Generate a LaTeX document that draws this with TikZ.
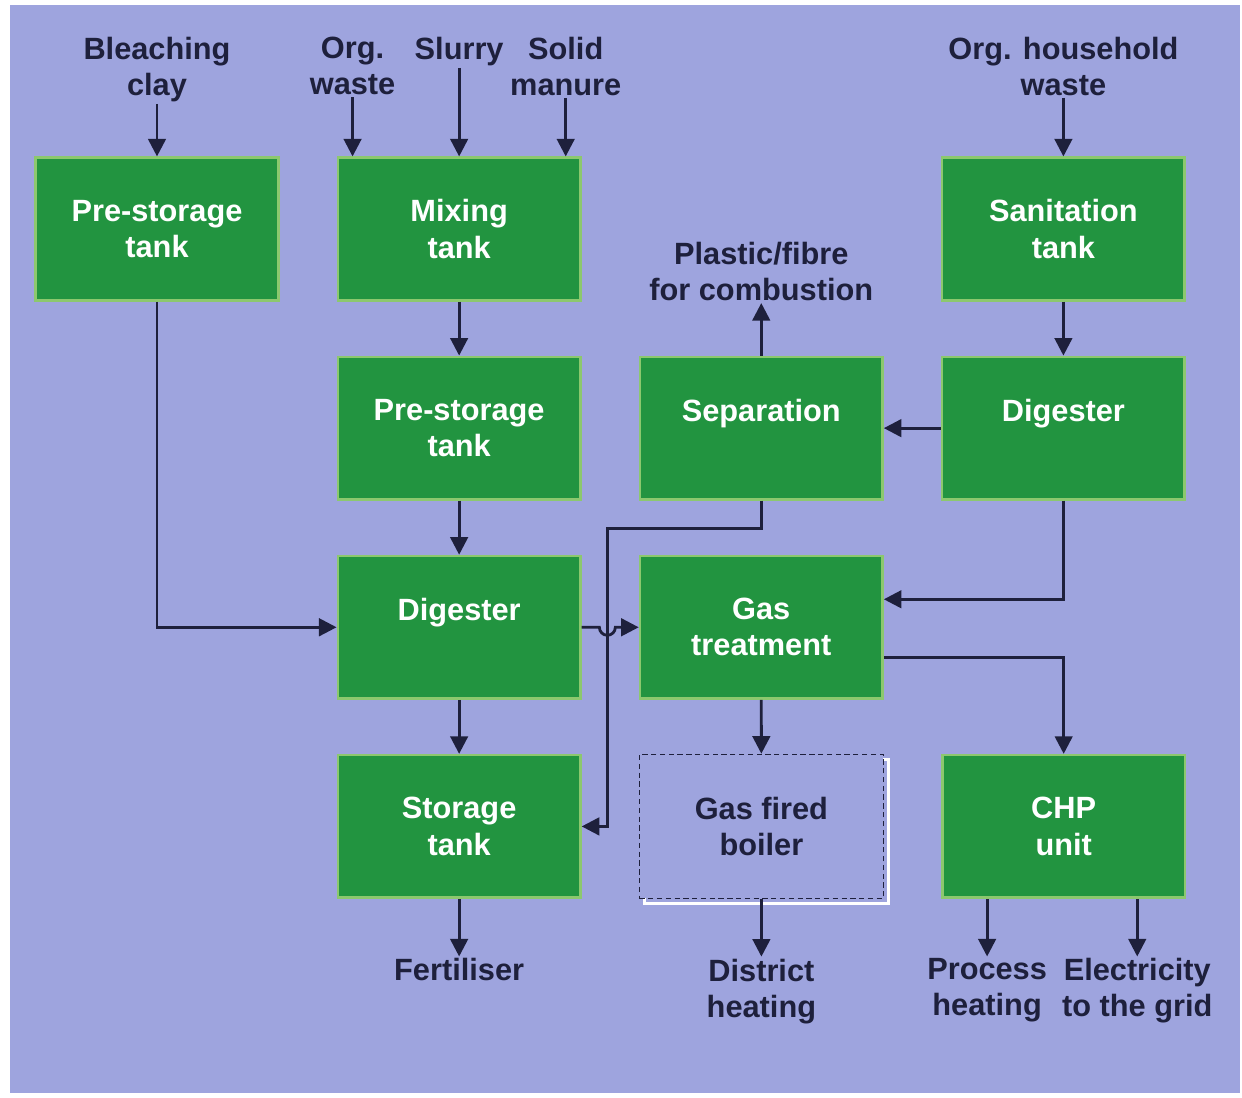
\documentclass[tikz,border=0pt]{standalone}
\usepackage{fontspec}
\setmainfont{Liberation Sans}
\usepackage{tikz}
\usetikzlibrary{positioning}
\usetikzlibrary{arrows.meta,calc,shadows}
\definecolor{bgblue}{RGB}{158,164,222}
\definecolor{boxgreen}{RGB}{34,148,64}
\definecolor{edgegreen}{RGB}{140,200,110}
\definecolor{ink}{RGB}{30,32,60}
\newcommand{\blankline}{\\\mbox{}}

\begin{document}
\begin{tikzpicture}[font=\bfseries\fontsize{17.5}{20.5}\selectfont,
            box/.style = {draw=edgegreen, line width=1.5pt, fill=boxgreen, text=white, align=center, minimum width=4.85cm, minimum height=2.85cm},
            dashbox/.style = {draw=ink, densely dashed, line width=0.8pt, fill=bgblue, text=ink, align=center, minimum width=4.88cm, minimum height=2.88cm,
                general shadow={draw=white, solid, fill=bgblue, line width=1.5pt, shadow xshift=0.1cm, shadow yshift=-0.1cm}},
            lbl/.style = {text=ink, align=center, inner sep=1pt},
            flow/.style = {draw=ink, line width=1.6pt, -{Triangle[length=10pt,width=10pt]}}]
            \useasboundingbox (0,0) rectangle (24.84,-21.96);
            \fill[bgblue] (0.2,-0.1) rectangle (24.8,-21.86);
            % Nodes
            \node[box] (ps1) at (3.14,-4.58) {Pre-storage\\tank};
            \node[box] (mix) [right=1.14cm of ps1] {Mixing\\tank};
            \node[box] (ps2) [below=1.08cm of mix] {Pre-storage\\tank};
            \node[box] (sep) [right=1.14cm of ps2] {Separation\blankline};
            \node[box] (dig2) [right=1.14cm of sep] {Digester\blankline};
            \node[box] (san) [above=1.08cm of dig2] {Sanitation\\tank};
            \node[box] (dig1) [below=1.08cm of ps2] {Digester\blankline};
            \node[box] (gas) [right=1.14cm of dig1] {Gas\\treatment};
            \node[box] (store) [below=1.08cm of dig1] {Storage\\tank};
            \node[dashbox] (boiler) [right=1.14cm of store] {Gas fired\\boiler};
            \node[box] (chp) [right=1.14cm of boiler] {CHP\\unit};
            % Inputs and outputs
            \node[lbl] (clay) [above=1.05cm of ps1] {Bleaching\\clay};
            \node[lbl, anchor=north] (orgw) at ($(clay.north -| mix.west)+(0.32,0)$) {Org.\\waste};
            \node[lbl, anchor=north] (slurry) at (clay.north -| mix.north) {Slurry};
            \node[lbl, anchor=north] (manure) at ($(clay.north -| mix.east)+(-0.32,0)$) {Solid\\manure};
            \node[lbl, anchor=north] (house) at (clay.north -| san.north) {Org. household\\waste};
            \node[lbl] (plastic) [above=1.05cm of sep] {Plastic/fibre\\for combustion};
            \node[lbl] (fert) [below=1.15cm of store] {Fertiliser};
            \node[lbl] (district) [below=1.15cm of boiler] {District\\heating};
            \node[lbl, anchor=north] (proc) at ($(chp.south west)+(0.92,-1.15)$) {Process\\heating};
            \node[lbl, anchor=north] (elec) at ($(chp.south east)+(-0.98,-1.15)$) {Electricity\\to the grid};
            % Edges
            \draw[flow] (clay) -- (ps1);
            \draw[flow] (orgw) -- (orgw |- mix.north);
            \draw[flow] (slurry) -- (mix);
            \draw[flow] (manure) -- (manure |- mix.north);
            \draw[flow] (house) -- (san);
            \draw[flow] (mix) -- (ps2);
            \draw[flow] (ps2) -- (dig1);
            \draw[flow] (dig1) -- (store);
            \draw[flow] (store) -- (fert);
            \draw[flow] (san) -- (dig2);
            \draw[flow] (dig2) -- (sep);
            \draw[flow] (sep) -- (plastic);
            \draw[flow] (gas) -- (boiler);
            \draw[flow] (boiler) -- (district);
            \draw[flow] (ps1.south) |- (dig1.west);
            \draw[flow] (dig2.south) |- ([yshift=0.56cm]gas.east);
            \draw[flow] ([yshift=-0.6cm]gas.east) -| (chp.north);
            \draw[flow] (proc |- chp.south) -- (proc);
            \draw[flow] (elec |- chp.south) -- (elec);
            % Crossing
            \coordinate (cross) at ($(dig1.east)!0.45!(gas.west)$);
            \draw[flow] (sep.south) -- ++(0,-0.56) -| (cross |- store.east) -- (store.east);
            \draw[flow] (dig1.east) -- ($(cross)+(-0.16,0)$) arc[start angle=180, end angle=360, radius=0.16] -- (gas.west);
\end{tikzpicture}
\end{document}
